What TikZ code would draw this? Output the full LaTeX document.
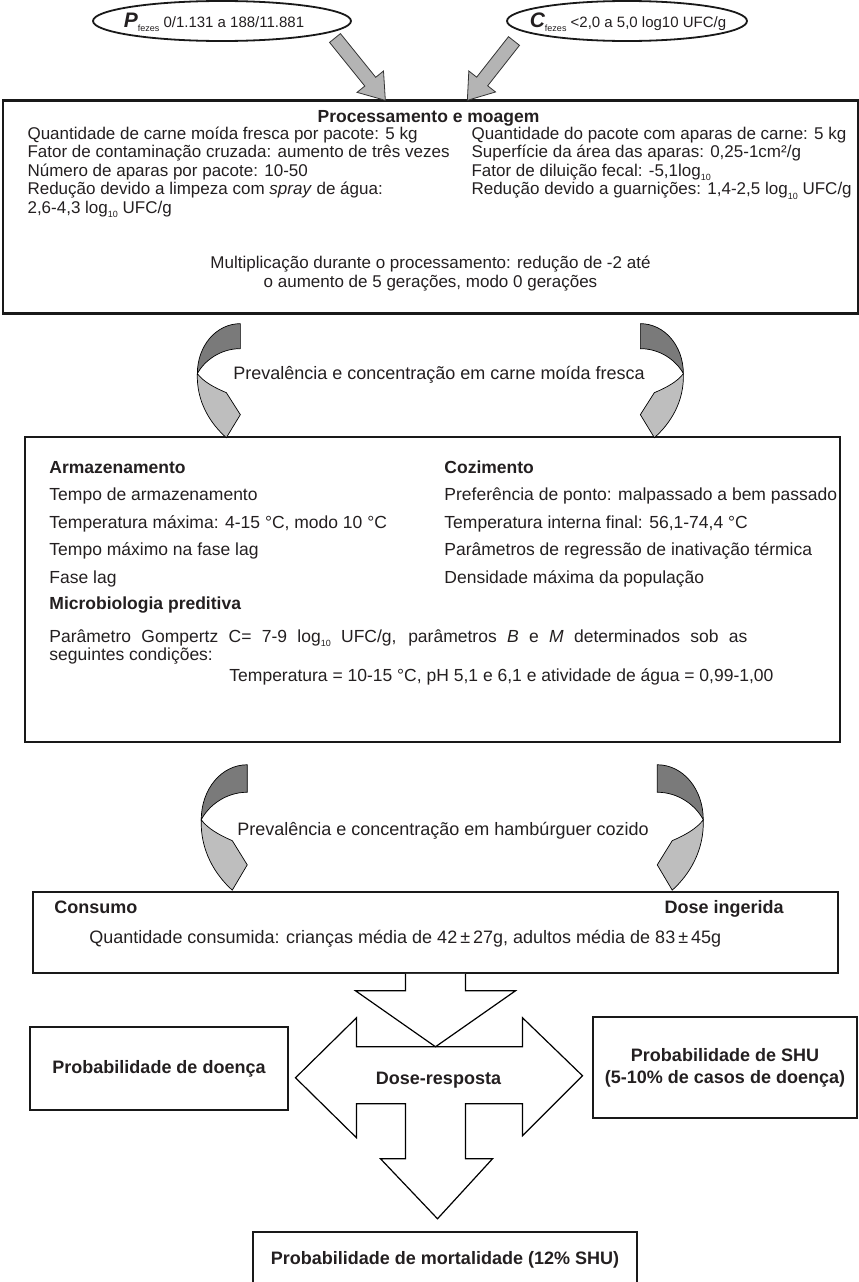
\documentclass[tikz,border=0pt]{standalone}
\usepackage{fontspec}
\setmainfont{Liberation Sans}
\usetikzlibrary{calc}
\definecolor{ribbondark}{RGB}{122,122,122}
\definecolor{ribbonlight}{RGB}{190,190,190}
\definecolor{arrowgray}{RGB}{180,180,180}
\definecolor{ink}{RGB}{35,31,32}
\newcommand\lowidx[1]{\raisebox{-.5ex}{\fontsize{9}{9}\selectfont #1}}
\newcommand\setfs[1]{\fontsize{#1}{#1}\selectfont}
% straight gray block arrow from #1 to the tip #2
\newcommand\fatarrow[2]{%
  \path ($(#2)!24pt!(#1)$) coordinate (fa-b);
  \filldraw[fill=arrowgray,draw=black!80,line width=.8pt,line join=miter]
    ($(#1)!7pt!90:(#2)$) -- ($(fa-b)!7pt!90:(#2)$) -- ($(fa-b)!17pt!90:(#2)$) -- (#2)
    -- ($(fa-b)!17pt!-90:(#2)$) -- ($(fa-b)!7pt!-90:(#2)$) -- ($(#1)!7pt!-90:(#2)$) -- cycle;}
\tikzset{
  bend arrow/.pic={
    % back of the ribbon
    \filldraw[fill=ribbondark,draw=black,line width=.7pt]
      (0,0) .. controls (-24,0) and (-43,22) .. (-43,50)
      .. controls (-36,37) and (-20,25) .. (0,25) -- cycle;
    % front of the ribbon with its head
    \filldraw[fill=ribbonlight,draw=black,line width=.7pt,line join=miter]
      (-43,50) .. controls (-44,78) and (-30,100) .. (-14,114) -- (0,91) -- (-14,69)
      .. controls (-26,64) and (-37,58) .. (-43,50) -- cycle;
  }
}
\begin{document}
\begin{tikzpicture}[x=1pt,y=-1pt,text=ink,
  box/.style={draw=black!90,line width=1.5pt,inner sep=0pt},
  small/.style={inner sep=0pt,anchor=base west,font=\fontsize{17}{19}\selectfont},
  body/.style={inner sep=0pt,anchor=base west,font=\fontsize{17.5}{21}\selectfont},
  head/.style={body,font=\fontsize{17.5}{21}\selectfont\bfseries},
  oval/.style={draw=black!90,line width=1.8pt},
  solid arrow/.style={draw=black,line width=1.2pt,fill=white,line join=miter}]
\useasboundingbox (0,0) rectangle (859,1282);
\clip (0,0) rectangle (859,1282);

% processing and grinding
\node[box,line width=1.3pt,minimum width=855,minimum height=212] (box1) at (430.5,207) {};
\draw[line width=2.4pt,black!90] (box1.north west) -- (box1.north east) (box1.south west) -- (box1.south east);
\node[small,anchor=base,font=\fontsize{17.5}{20}\selectfont\bfseries] (proc) at ($(box1.north)+(-2,22)$) {Processamento e moagem};
\node[small] (q1) at ($(box1.north west)+(25,39)$) {Quantidade de carne moída fresca por pacote: 5 kg};
\node[small] (q2) at ($(box1.north west)+(25,57.5)$) {Fator de contaminação cruzada: aumento de três vezes};
\node[small] (q3) at ($(box1.north west)+(25,76)$) {Número de aparas por pacote: 10-50};
\node[small] (q4) at ($(box1.north west)+(25,94.5)$) {Redução devido a limpeza com \textit{spray} de água:};
\node[small] (q5) at ($(box1.north west)+(25,113)$) {2,6-4,3 log\lowidx{10} UFC/g};
\node[small] (r1) at ($(box1.north west)+(469,39)$) {Quantidade do pacote com aparas de carne: 5 kg};
\node[small] (r2) at ($(box1.north west)+(469,57.5)$) {Superfície da área das aparas: 0,25-1cm²/g};
\node[small] (r3) at ($(box1.north west)+(469,76)$) {Fator de diluição fecal: -5,1log\lowidx{10}};
\node[small] (r4) at ($(box1.north west)+(469,94.5)$) {Redução devido a guarnições: 1,4-2,5 log\lowidx{10} UFC/g};
\node[small,anchor=base] (mult1) at ($(box1.north)+(0,168)$) {Multiplicação durante o processamento: redução de -2 até};
\node[small,anchor=base] (mult2) at ($(box1.north)+(0,187)$) {o aumento de 5 gerações, modo 0 gerações};

% fecal sources
\node[inner sep=0pt,font=\setfs{15}] (pfez) at (214,22) {{\setfs{21}\bfseries\itshape P}\lowidx{fezes}\ 0/1.131 a 188/11.881};
\draw[oval] ($(pfez)+(8,-1)$) ellipse [x radius=129, y radius=20];
\node[inner sep=0pt,font=\setfs{15}] (cfez) at (628,22) {{\setfs{21}\bfseries\itshape C}\lowidx{fezes}\ <2,0 a 5,0 log10 UFC/g};
\draw[oval] ($(cfez)+(-1,-1)$) ellipse [x radius=120, y radius=20];
\coordinate (pfez-out) at ($(pfez)+(121,16)$);
\coordinate (cfez-out) at ($(cfez)+(-114,19)$);
\coordinate (pin) at ($(box1.north west)+(383,0)$);
\coordinate (cin) at ($(box1.north west)+(465,0)$);
\fatarrow{pfez-out}{pin}
\fatarrow{cfez-out}{cin}

% storage, cooking, predictive microbiology
\node[box,minimum width=815,minimum height=305] (box2) at (432.5,589.5) {};
\node[head] (arm) at ($(box2.north west)+(25,37)$) {Armazenamento};
\node[body] (a1) at ($(box2.north west)+(25,64.5)$) {Tempo de armazenamento};
\node[body] (a2) at ($(box2.north west)+(25,92)$) {Temperatura máxima: 4-15 °C, modo 10 °C};
\node[body] (a3) at ($(box2.north west)+(25,119.5)$) {Tempo máximo na fase lag};
\node[body] (a4) at ($(box2.north west)+(25,147)$) {Fase lag};
\node[head] (micro) at ($(box2.north west)+(25,173)$) {Microbiologia preditiva};
\node[body] (m1) at ($(box2.north west)+(25,206)$) {\makebox[698pt][s]{Parâmetro Gompertz C= 7-9 log\lowidx{10} UFC/g, parâmetros \textit{B} e \textit{M} determinados sob as}};
\node[body] (m2) at ($(box2.north west)+(25,224)$) {seguintes condições:};
\node[body] (m3) at ($(box2.north west)+(205,245)$) {Temperatura = 10-15 °C, pH 5,1 e 6,1 e atividade de água = 0,99-1,00};
\node[head] (coz) at ($(box2.north west)+(420,37)$) {Cozimento};
\node[body] (c1) at ($(box2.north west)+(420,64.5)$) {Preferência de ponto: malpassado a bem passado};
\node[body] (c2) at ($(box2.north west)+(420,92)$) {Temperatura interna final: 56,1-74,4 °C};
\node[body] (c3) at ($(box2.north west)+(420,119.5)$) {Parâmetros de regressão de inativação térmica};
\node[body] (c4) at ($(box2.north west)+(420,147)$) {Densidade máxima da população};

% first pair of bent arrows
\pic at ($(box1.south west)+(238,10)$) {bend arrow};
\pic[xscale=-1] at ($(box1.south west)+(638,10)$) {bend arrow};
\node[body,anchor=base,font=\fontsize{18}{21}\selectfont] (fresh) at ($(box1.south)+(8.5,65.5)$) {Prevalência e concentração em carne moída fresca};

% consumption
\node[box,minimum width=805,minimum height=81] (box3) at (435.5,932.5) {};
\node[head,font=\fontsize{18}{21}\selectfont\bfseries] (cons) at ($(box3.north west)+(22,22.5)$) {Consumo};
\node[head,anchor=base east,font=\fontsize{18}{21}\selectfont\bfseries] (dose) at ($(box3.north east)+(-55,22.5)$) {Dose ingerida};
\node[body,font=\fontsize{18}{21}\selectfont] (qc) at ($(box3.north west)+(57,52.5)$) {Quantidade consumida: crianças média de 42\,±\,27g, adultos média de 83\,±\,45g};

% second pair of bent arrows
\pic[xscale=1.07,yscale=1.1] at ($(box2.south west)+(223,22)$) {bend arrow};
\pic[xscale=-1.07,yscale=1.1] at ($(box2.south west)+(633,22)$) {bend arrow};
\node[body,anchor=base,font=\fontsize{18}{21}\selectfont] (cooked) at ($(box2.south)+(10.5,92.5)$) {Prevalência e concentração em hambúrguer cozido};

% dose-response
\coordinate (dr) at ($(box3.south)+(0,102)$);
\begin{scope}[shift={(dr)}]
  \draw[solid arrow] (-140,2) -- (-79,-58) -- (-79,-29) -- (87,-29) -- (87,-58) -- (147,0)
    -- (87,60) -- (87,28) -- (30,28) -- (30,83) -- (57,83) -- (2,143) -- (-55,83)
    -- (-30,83) -- (-30,28) -- (-79,28) -- (-79,62) -- cycle;
  \draw[solid arrow] (-30,-102) -- (-30,-85) -- (-80,-85) -- (0,-29) -- (80,-85) -- (30,-85) -- (30,-102);
\end{scope}
\node[head,anchor=base,font=\fontsize{18}{21}\selectfont\bfseries] (dresp) at ($(dr)+(3,9)$) {Dose-resposta};

% outcomes
\node[box,minimum width=258,minimum height=83,font=\fontsize{18}{22}\selectfont\bfseries] (doenca) at (159,1068.5) {Probabilidade de doença};
\node[box,minimum width=264,minimum height=101,align=center,font=\fontsize{18}{22}\selectfont\bfseries] (shu) at (725,1067.5) {Probabilidade de SHU\\(5-10\% de casos de doença)};
\node[box,minimum width=384,minimum height=56,font=\fontsize{18}{22}\selectfont\bfseries] (mort) at (445,1260) {Probabilidade de mortalidade (12\% SHU)};
\end{tikzpicture}
\end{document}
